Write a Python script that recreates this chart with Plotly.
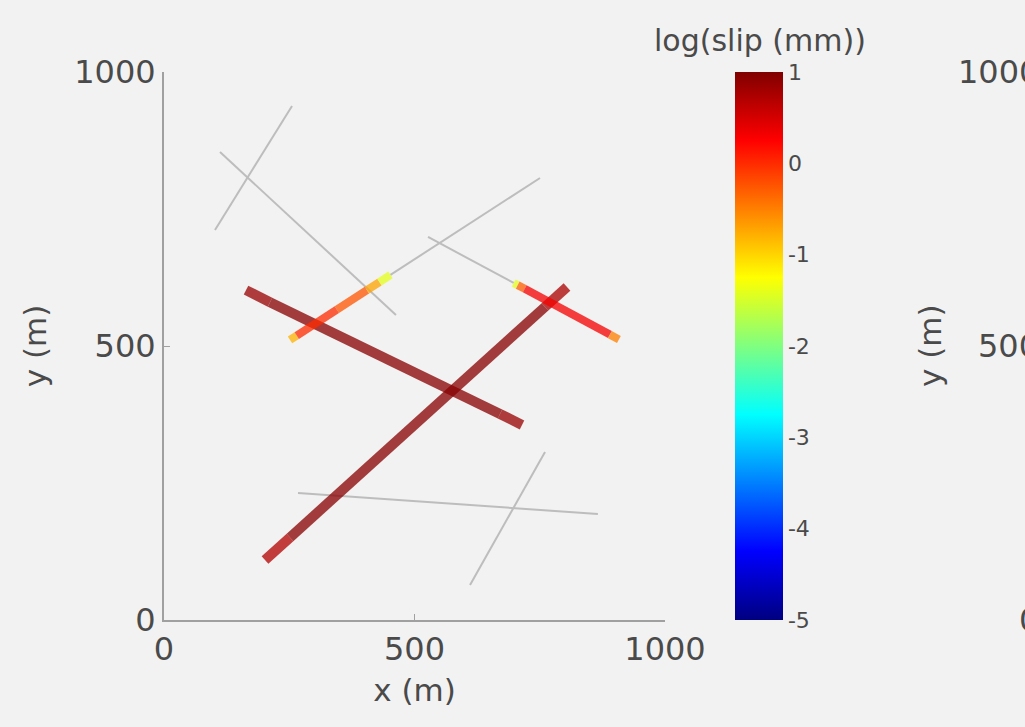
import plotly.graph_objects as go
from plotly.colors import sample_colorscale

# MATLAB-style jet colormap
JET = [
    [0.0, "rgb(0,0,128)"],
    [0.125, "rgb(0,0,255)"],
    [0.375, "rgb(0,255,255)"],
    [0.625, "rgb(255,255,0)"],
    [0.875, "rgb(255,0,0)"],
    [1.0, "rgb(128,0,0)"],
]
SLIP_MIN, SLIP_MAX = -5, 1
cbar_ticks = [1, 0, -1, -2, -3, -4, -5]
cbar_labels = ["1", "0", "-1", "-2", "-3", "-4", "-5"]

# Fault traces (m): vertices along each fault, and log10 slip (mm) for each
# segment between consecutive vertices (None = no slip, drawn in grey)
fault_a_x = [163.7, 211.6, 670.7, 714.6]
fault_a_y = [602.0, 580.0, 376.0, 356.0]
fault_a_slip = [0.85, 0.95, 0.85]

fault_b_x = [201.6, 251.5, 760.5, 804.4]
fault_b_y = [109.5, 150.7, 571.4, 607.7]
fault_b_slip = [0.7, 0.95, 0.75]

fault_c_x = [251.5, 265.0, 345.0, 405.0, 430.0, 452.0, 750.5]
fault_c_y = [511.0, 519.0, 566.4, 602.0, 616.7, 629.8, 806.6]
fault_c_slip = [-0.8, 0.0, -0.25, -0.7, -1.4, None]

fault_d_x = [527.0, 698.0, 706.0, 720.0, 890.0, 908.0]
fault_d_y = [699.0, 615.1, 611.1, 604.3, 520.8, 512.0]
fault_d_slip = [None, -1.4, -0.3, 0.3, -0.5]

# Faults without slip
quiet_faults_x = [
    [101.8, 255.5],
    [111.8, 463.0],
    [267.5, 866.0],
    [610.8, 760.5],
]
quiet_faults_y = [
    [711.7, 938.0],
    [854.0, 556.6],
    [231.8, 193.4],
    [63.9, 306.6],
]

THICK = {"a": 10, "b": 10, "c": 8, "d": 8}
faults = {
    "a": (fault_a_x, fault_a_y, fault_a_slip),
    "b": (fault_b_x, fault_b_y, fault_b_slip),
    "c": (fault_c_x, fault_c_y, fault_c_slip),
    "d": (fault_d_x, fault_d_y, fault_d_slip),
}

fig = go.Figure()

# grey (slip-free) fault segments
gx, gy = [], []
for xs, ys in zip(quiet_faults_x, quiet_faults_y):
    gx += xs + [None]
    gy += ys + [None]
for xs, ys, slips in faults.values():
    for i, s in enumerate(slips):
        if s is None:
            gx += [xs[i], xs[i + 1], None]
            gy += [ys[i], ys[i + 1], None]
fig.add_trace(go.Scatter(x=gx, y=gy, mode="lines",
                         line=dict(color="#bdbdbd", width=2),
                         hoverinfo="skip", showlegend=False))

# slipping segments, coloured through the jet scale
for key, (xs, ys, slips) in faults.items():
    for i, s in enumerate(slips):
        if s is None:
            continue
        frac = (s - SLIP_MIN) / (SLIP_MAX - SLIP_MIN)
        col = sample_colorscale(JET, [frac])[0]
        fig.add_trace(go.Scatter(
            x=[xs[i], xs[i + 1]], y=[ys[i], ys[i + 1]], mode="lines",
            line=dict(color=col, width=THICK[key]), opacity=0.75,
            hoverinfo="skip", showlegend=False))

FONT = dict(family="DejaVu Sans", color="#4a4a4a")

# colour bar
fig.add_trace(go.Scatter(
    x=[None], y=[None], mode="markers", showlegend=False, hoverinfo="skip",
    marker=dict(color=[SLIP_MAX], colorscale=JET, cmin=SLIP_MIN, cmax=SLIP_MAX,
                showscale=True,
                colorbar=dict(x=1.14, xanchor="left", y=0.5, yanchor="middle",
                              len=1.0, thickness=48, xpad=0, ypad=0,
                              outlinewidth=0,
                              tickvals=cbar_ticks, ticktext=cbar_labels,
                              ticks="", ticklabelposition="outside",
                              tickfont=dict(size=22, **FONT)))))

axis_common = dict(range=[0, 1000], tickvals=[0, 500, 1000],
                   showgrid=False, zeroline=False, showline=True,
                   linecolor="#a0a0a0", linewidth=2, ticks="inside",
                   ticklen=6, tickcolor="#a0a0a0",
                   tickfont=dict(size=32, **FONT))

fig.update_layout(
    width=1025, height=727,
    margin=dict(l=164, r=360, t=72, b=107, autoexpand=False),
    paper_bgcolor="#f2f2f2", plot_bgcolor="#f2f2f2",
    xaxis=dict(**axis_common, title=dict(text="x (m)", font=dict(size=31, **FONT),
                                         standoff=12)),
    yaxis=dict(**axis_common, title=dict(text="y (m)", font=dict(size=31, **FONT),
                                         standoff=18)),
)

# colour bar title
fig.add_annotation(text="log(slip (mm))", xref="paper", yref="paper",
                   x=(760 - 164) / 501, y=1.0, yshift=32, showarrow=False,
                   font=dict(size=30, **FONT), xanchor="center", yanchor="middle")

# neighbouring panel's y axis (cut off at the right edge)
for lbl, yv in [("1000", 1.0), ("500", 0.5), ("0", 0.0)]:
    fig.add_annotation(text=lbl, xref="paper", yref="paper",
                       x=(1041 - 164) / 501, y=yv, showarrow=False,
                       xanchor="right", yanchor="middle",
                       font=dict(size=32, **FONT))
fig.add_annotation(text="y (m)", xref="paper", yref="paper",
                   x=(930 - 164) / 501, y=0.5, showarrow=False, textangle=-90,
                   xanchor="center", yanchor="middle", font=dict(size=31, **FONT))

fig.write_html("out.html")
